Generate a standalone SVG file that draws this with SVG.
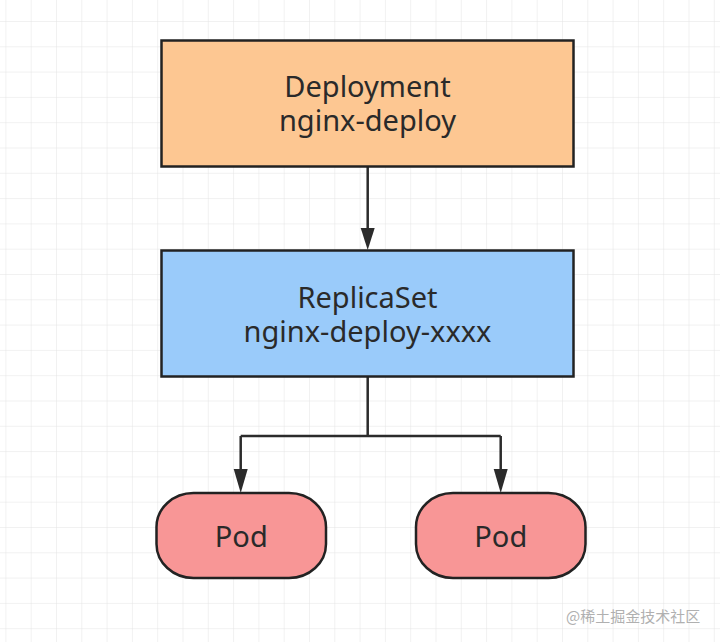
<svg xmlns="http://www.w3.org/2000/svg" width="720" height="642" viewBox="0 0 720 642">
<defs>
<pattern id="grid" x="5.4" y="-4.3" width="25.3" height="25.3" patternUnits="userSpaceOnUse">
<path d="M0 0H25.3M0 0V25.3" fill="none" stroke="#e4e4e4" stroke-width="1"/>
</pattern>
<style>
.box{stroke:#222;stroke-width:2.5}
.t{font-family:"Noto Sans","Open Sans",sans-serif;font-size:29px;fill:#2a2a2a;text-anchor:middle}
.c{fill:none;stroke:#2b2b2b;stroke-width:2.5}
.ah{fill:#2b2b2b}
</style>
</defs>
<rect width="720" height="642" fill="#ffffff"/>
<rect width="720" height="642" fill="url(#grid)"/>
<g id="connectors">
<path class="c" d="M367.7 167V238"/>
<path class="ah" d="M360.7 228L367.7 250L374.7 228Z"/>
<path class="c" d="M367.7 377V436M240.7 436H500.7M240.7 436V481M500.7 436V481"/>
<path class="ah" d="M233.7 469L240.7 493L247.7 469Z"/>
<path class="ah" d="M493.7 469L500.7 493L507.7 469Z"/>
</g>
<g id="deployment">
<rect class="box" x="161.5" y="40.5" width="412" height="126" fill="#fdc792"/>
<text class="t" x="367.5" y="97">Deployment</text>
<text class="t" x="367.5" y="131">nginx-deploy</text>
</g>
<g id="replicaset">
<rect class="box" x="161.5" y="250.5" width="412" height="126" fill="#9acbfa"/>
<text class="t" x="367.5" y="308">ReplicaSet</text>
<text class="t" x="367.5" y="342">nginx-deploy-xxxx</text>
</g>
<g id="pod1">
<rect class="box" x="156.5" y="493" width="169.5" height="85" rx="37" ry="34" fill="#f89696"/>
<text class="t" x="241.3" y="547">Pod</text>
</g>
<g id="pod2">
<rect class="box" x="416" y="493" width="169.5" height="85" rx="37" ry="34" fill="#f89696"/>
<text class="t" x="500.8" y="547">Pod</text>
</g>
<text x="566" y="622" font-family="'Noto Sans CJK SC',sans-serif" font-size="15" fill="#b0b0b0">@稀土掘金技术社区</text>
</svg>
